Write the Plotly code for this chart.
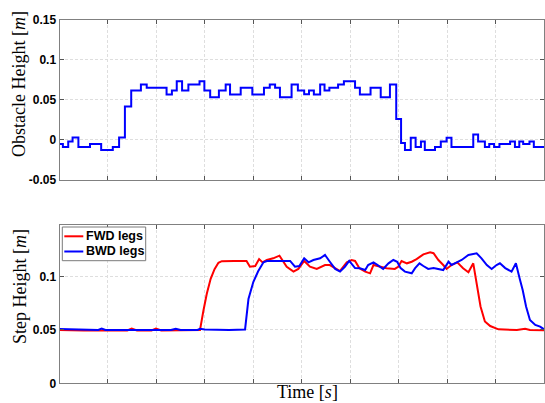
import plotly.graph_objects as go
from plotly.subplots import make_subplots

# ---- obstacle profile (piecewise constant) ----
obs_t = [0, 0.07, 0.18, 0.27, 0.39, 0.63, 0.86, 1.10, 1.23, 1.35,
         1.48, 1.68, 1.80, 2.21, 2.32, 2.42, 2.53, 2.66, 2.89, 2.99,
         3.11, 3.29, 3.43, 3.52, 3.74, 3.98, 4.22, 4.34, 4.45, 4.55,
         4.79, 4.92, 5.05, 5.15, 5.25, 5.38, 5.47, 5.57, 5.75, 5.87,
         6.10, 6.20, 6.42, 6.63, 6.82, 6.95, 7.05, 7.13, 7.25, 7.35,
         7.46, 7.54, 7.75, 7.87, 7.99, 8.09, 8.54, 8.64, 8.78, 8.87,
         8.97, 9.08, 9.30, 9.40, 9.49, 9.57, 9.70, 9.79, 10.0]
obs_h = [-0.005, -0.009, -0.002, 0.003, -0.009, -0.005, -0.0125, -0.009, 0.003, 0.0416,
         0.0616, 0.069, 0.065, 0.0566, 0.0616, 0.073, 0.0616, 0.069, 0.073, 0.0616,
         0.053, 0.0616, 0.069, 0.0566, 0.065, 0.0566, 0.065, 0.069, 0.065, 0.053,
         0.069, 0.0616, 0.057, 0.0616, 0.0566, 0.069, 0.0616, 0.065, 0.069, 0.073,
         0.065, 0.0566, 0.065, 0.053, 0.069, 0.026, -0.004, -0.0125, 0.0025, -0.009,
         -0.002, -0.0125, -0.009, -0.002, 0.0025, -0.009, 0.0066, -0.002, -0.009, -0.005,
         -0.009, -0.005, -0.002, -0.009, -0.002, -0.005, -0.002, -0.009, -0.009]

# ---- step height, forward legs ----
fwd_t = [0, 0.3, 0.5, 0.8, 1.2, 1.4, 1.49, 1.6, 1.9, 1.99,
         2.1, 2.5, 2.9, 2.97, 3.04, 3.12, 3.2, 3.28, 3.35, 3.6,
         3.86, 3.93, 4.04, 4.12, 4.19, 4.28, 4.41, 4.54, 4.62, 4.69,
         4.83, 4.93, 5.05, 5.17, 5.31, 5.48, 5.58, 5.69, 5.79, 5.93,
         6.03, 6.10, 6.19, 6.31, 6.41, 6.48, 6.58, 6.75, 6.92, 6.99,
         7.06, 7.17, 7.27, 7.37, 7.51, 7.65, 7.72, 7.82, 7.92, 7.99,
         8.09, 8.21, 8.33, 8.44, 8.54, 8.61, 8.65, 8.69, 8.78, 8.89,
         9.06, 9.44, 9.61, 9.71, 10.0]
fwd_h = [0.0500, 0.0495, 0.0495, 0.0495, 0.0495, 0.0495, 0.0512, 0.0495, 0.0495, 0.0512,
         0.0495, 0.0495, 0.0500, 0.068, 0.084, 0.098, 0.107, 0.113, 0.1145, 0.1147,
         0.1147, 0.1093, 0.1100, 0.1165, 0.1134, 0.1156, 0.1172, 0.1197, 0.1147, 0.1093,
         0.1047, 0.1072, 0.1147, 0.1093, 0.1072, 0.1109, 0.1109, 0.1080, 0.1053, 0.1134,
         0.1156, 0.1147, 0.1078, 0.1047, 0.1031, 0.1109, 0.1095, 0.1078, 0.1072, 0.1093,
         0.1147, 0.1125, 0.1140, 0.1165, 0.1209, 0.1228, 0.1220, 0.1156, 0.1109, 0.1072,
         0.1109, 0.1134, 0.1078, 0.1041, 0.1125, 0.0930, 0.0850, 0.0720, 0.0580, 0.0537,
         0.0506, 0.0500, 0.0512, 0.0500, 0.0497]

# ---- step height, backward legs ----
bwd_t = [0, 0.1, 0.15, 0.22, 0.5, 0.8, 0.87, 0.95, 1.5, 2.3,
         2.4, 2.5, 2.85, 2.9, 3.0, 3.5, 3.83, 3.90, 4.00, 4.10,
         4.21, 4.28, 4.76, 4.86, 4.95, 5.05, 5.14, 5.24, 5.38, 5.48,
         5.58, 5.69, 5.79, 5.89, 5.98, 6.10, 6.20, 6.31, 6.37, 6.48,
         6.56, 6.68, 6.79, 6.89, 6.97, 7.04, 7.13, 7.27, 7.34, 7.43,
         7.51, 7.61, 7.72, 7.82, 7.92, 8.03, 8.09, 8.20, 8.30, 8.44,
         8.61, 8.71, 8.82, 8.92, 9.02, 9.09, 9.20, 9.33, 9.42, 9.50,
         9.56, 9.63, 9.71, 9.82, 9.92, 10.0]
bwd_h = [0.0510, 0.0508, 0.0513, 0.0505, 0.0500, 0.0500, 0.0513, 0.0500, 0.0500, 0.0500,
         0.0512, 0.0500, 0.0500, 0.0512, 0.0505, 0.0500, 0.0505, 0.0790, 0.0950, 0.1050,
         0.1134, 0.1147, 0.1147, 0.1093, 0.1100, 0.1172, 0.1134, 0.1156, 0.1172, 0.1203,
         0.1140, 0.1072, 0.1047, 0.1093, 0.1147, 0.1080, 0.1078, 0.1062, 0.1109, 0.1134,
         0.1110, 0.1072, 0.1125, 0.1156, 0.1140, 0.1080, 0.1047, 0.1031, 0.1080, 0.1125,
         0.1100, 0.1072, 0.1080, 0.1072, 0.1062, 0.1140, 0.1110, 0.1134, 0.1156, 0.1203,
         0.1219, 0.1172, 0.1109, 0.1072, 0.1109, 0.1125, 0.1080, 0.1047, 0.1125, 0.0978,
         0.0875, 0.0720, 0.0594, 0.0547, 0.0531, 0.0506]

top_ticks = [-0.05, 0, 0.05, 0.1, 0.15]
top_ticktext = ["-0.05", "0", "0.05", "0.1", "0.15"]
bot_ticks = [0, 0.05, 0.1]
bot_ticktext = ["0", "0.05", "0.1"]
time_ticks = [0, 1, 2, 3, 4, 5, 6, 7, 8, 9, 10]

series_names = ["FWD legs", "BWD legs"]
series_colors = ["#ff0000", "#0000ff"]

W, H = 545, 403


def px(x):
    return x / W


def py(y):
    return 1 - y / H


fig = make_subplots(rows=2, cols=1)

fig.add_trace(go.Scatter(x=obs_t, y=obs_h, mode="lines", line_shape="hv",
                         line=dict(color="#0000ff", width=2), showlegend=False),
              row=1, col=1)
fig.add_trace(go.Scatter(x=fwd_t, y=fwd_h, mode="lines", name=series_names[0],
                         line=dict(color=series_colors[0], width=2), showlegend=False),
              row=2, col=1)
fig.add_trace(go.Scatter(x=bwd_t, y=bwd_h, mode="lines", name=series_names[1],
                         line=dict(color=series_colors[1], width=2), showlegend=False),
              row=2, col=1)

tick_font = dict(family="Liberation Sans, Arial, sans-serif", size=12,
                 color="#000000", weight="bold")
common_axis = dict(showline=True, mirror="ticks", linecolor="#808080", linewidth=1,
                   ticks="inside", ticklen=4, tickcolor="#555555", tickwidth=1,
                   showgrid=True, gridcolor="#dedede", gridwidth=1, griddash="3px,2px",
                   zeroline=False, tickfont=tick_font)

x_dom = [px(59.5), px(544)]
fig.update_layout(
    width=W, height=H,
    margin=dict(l=0, r=0, t=0, b=0),
    paper_bgcolor="white", plot_bgcolor="white",
    xaxis=dict(domain=x_dom, range=[0, 10], tickvals=time_ticks,
               showticklabels=False, **common_axis),
    xaxis2=dict(domain=x_dom, range=[0, 10], tickvals=time_ticks,
                showticklabels=False, **common_axis),
    yaxis=dict(domain=[py(180), py(19.5)], range=[-0.05, 0.15],
               tickvals=top_ticks, ticktext=top_ticktext, **common_axis),
    yaxis2=dict(domain=[py(383.3), py(224.7)], range=[0, 0.1487],
                tickvals=bot_ticks, ticktext=bot_ticktext, **common_axis),
)
fig.update_xaxes(automargin=False)
fig.update_yaxes(automargin=False)

title_font = dict(family="Liberation Serif, Times New Roman, serif", size=18, color="#000000")
fig.add_annotation(x=px(19), y=py(84), xref="paper", yref="paper",
                   text="Obstacle Height [<i>m</i>]", textangle=-90, showarrow=False,
                   font=title_font, xanchor="center", yanchor="middle")
fig.add_annotation(x=px(20), y=py(287), xref="paper", yref="paper",
                   text="Step Height [<i>m</i>]", textangle=-90, showarrow=False,
                   font=title_font, xanchor="center", yanchor="middle")
fig.add_annotation(x=px(307), y=py(392), xref="paper", yref="paper",
                   text="Time [<i>s</i>]", showarrow=False,
                   font=title_font, xanchor="center", yanchor="middle")

# legend box drawn in the lower panel's top-left corner
fig.add_shape(type="rect", xref="paper", yref="paper",
              x0=px(62.3), x1=px(145.7), y0=py(260.7), y1=py(227),
              line=dict(color="#7a7a7a", width=1), fillcolor="white", layer="above")
legend_font = dict(family="Liberation Sans, Arial, sans-serif", size=12.5,
                   color="#000000", weight="bold")
for i, (name, color) in enumerate(zip(series_names, series_colors)):
    yy = 236.3 + i * 15.2
    fig.add_shape(type="line", xref="paper", yref="paper",
                  x0=px(64.3), x1=px(83.3), y0=py(yy), y1=py(yy),
                  line=dict(color=color, width=2), layer="above")
    fig.add_annotation(x=px(84.3), y=py(yy), xref="paper", yref="paper",
                       text=name, showarrow=False, font=legend_font,
                       xanchor="left", yanchor="middle")

fig.write_html("out.html")
